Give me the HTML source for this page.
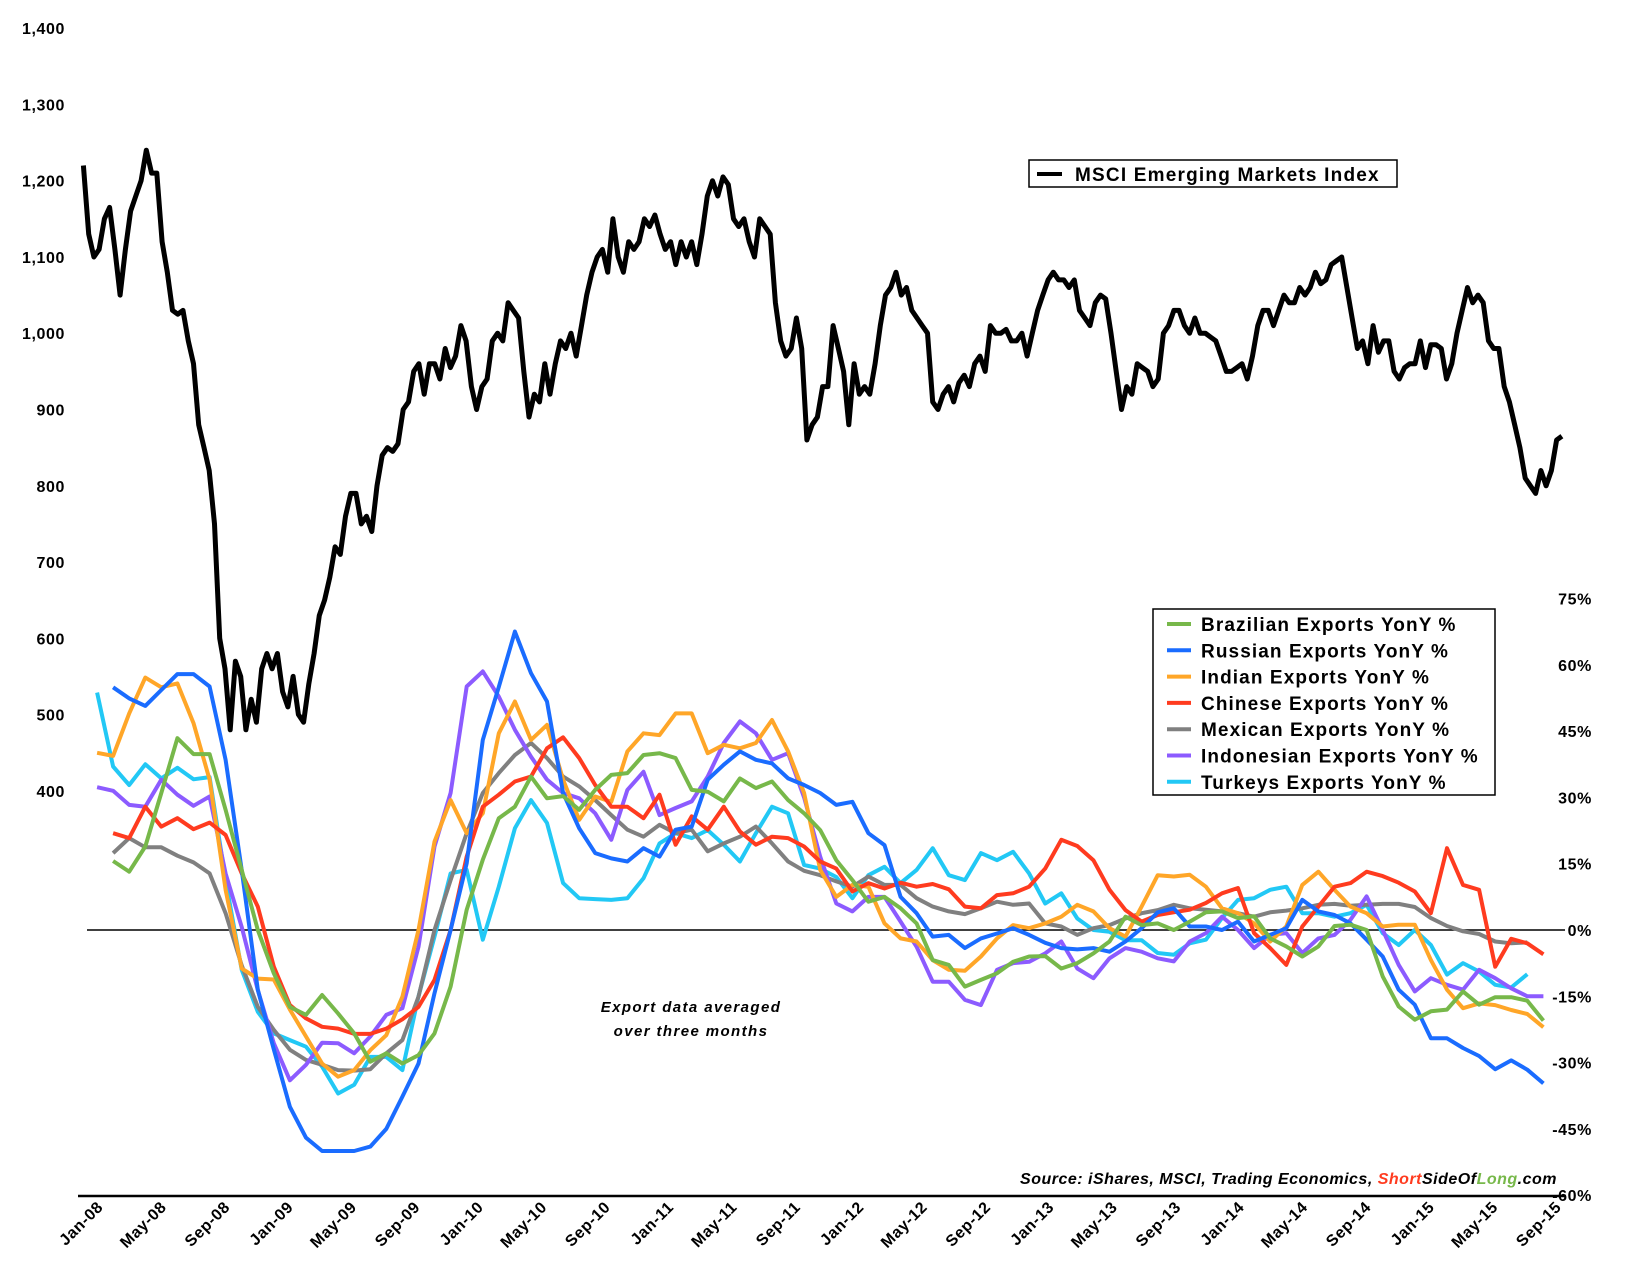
<!DOCTYPE html>
<html><head><meta charset="utf-8"><style>
body{margin:0;background:#fff;}
svg{display:block;font-family:"Liberation Sans",sans-serif;}
.ax{font-weight:bold;font-size:16px;fill:#000;letter-spacing:0.6px;}
</style></head><body>
<svg id="chart" width="1638" height="1276" viewBox="0 0 1638 1276" xmlns="http://www.w3.org/2000/svg">
<rect width="1638" height="1276" fill="#fff"/>
<g id="leftAxis"></g>
<g id="rightAxis"></g>
<g id="xAxis"></g>
<line x1="87" y1="930" x2="1565" y2="930" stroke="#000" stroke-width="1.5"/>
<line x1="78" y1="1196" x2="1566" y2="1196" stroke="#000" stroke-width="2.5"/>
<g id="series"></g>
<g id="msci"></g>
<g>
<rect x="1029" y="160" width="368" height="27" fill="#fff" stroke="#000" stroke-width="1.5"/>
<line x1="1037" y1="174" x2="1062" y2="174" stroke="#000" stroke-width="4"/>
<text x="1075" y="181" font-size="19" font-weight="bold" letter-spacing="1.2">MSCI Emerging Markets Index</text>
</g>
<g id="legend">
<rect x="1153" y="609" width="342" height="186" fill="#fff" stroke="#000" stroke-width="1.5"/>
</g>
<text x="691" y="1012" text-anchor="middle" font-size="15" font-style="italic" font-weight="bold" letter-spacing="1.4">Export data averaged</text>
<text x="691" y="1036" text-anchor="middle" font-size="15" font-style="italic" font-weight="bold" letter-spacing="1.4">over three months</text>
<text x="1557" y="1184" text-anchor="end" font-size="16" font-style="italic" font-weight="bold" letter-spacing="0.5">Source: iShares, MSCI, Trading Economics, <tspan fill="#ff3b1f">Short</tspan>SideOf<tspan fill="#77b84a">Long</tspan>.com</text>
</svg>
<script>
const NS="http://www.w3.org/2000/svg";
const leftTicks=[400,500,600,700,800,900,1000,1100,1200,1300,1400];
const leftTickLabels=["400","500","600","700","800","900","1,000","1,100","1,200","1,300","1,400"];
const rightTicks=[75,60,45,30,15,0,-15,-30,-45,-60];
const xLabels=["Jan-08","May-08","Sep-08","Jan-09","May-09","Sep-09","Jan-10","May-10","Sep-10","Jan-11","May-11","Sep-11","Jan-12","May-12","Sep-12","Jan-13","May-13","Sep-13","Jan-14","May-14","Sep-14","Jan-15","May-15","Sep-15"];
const msciValues=[1220,1130,1100,1110,1150,1165,1110,1050,1110,1160,1180,1200,1240,1210,1210,1120,1080,1030,1025,1030,990,960,880,850,820,750,600,560,480,570,550,480,520,490,560,580,560,580,530,510,550,500,490,540,580,630,650,680,720,710,760,790,790,750,760,740,800,840,850,845,855,900,910,950,960,920,960,960,940,980,955,970,1010,990,930,900,930,940,990,1000,990,1040,1030,1020,950,890,920,910,960,920,960,990,980,1000,970,1010,1050,1080,1100,1110,1080,1150,1100,1080,1120,1110,1120,1150,1140,1155,1130,1110,1120,1090,1120,1100,1120,1090,1130,1180,1200,1180,1205,1195,1150,1140,1150,1120,1100,1150,1140,1130,1040,990,970,980,1020,980,860,880,890,930,930,1010,980,950,880,960,920,930,920,960,1010,1050,1060,1080,1050,1060,1030,1020,1010,1000,910,900,920,930,910,935,945,930,960,970,950,1010,1000,1000,1005,990,990,1000,970,1000,1030,1050,1070,1080,1070,1070,1060,1070,1030,1020,1010,1040,1050,1045,1000,950,900,930,920,960,955,950,930,940,1000,1010,1030,1030,1010,1000,1020,1000,1000,995,990,970,950,950,955,960,940,970,1010,1030,1030,1010,1030,1050,1040,1040,1060,1050,1060,1080,1065,1070,1090,1095,1100,1060,1020,980,990,960,1010,975,990,990,950,940,955,960,960,990,955,985,985,980,940,960,1000,1030,1060,1040,1050,1040,990,980,980,930,910,880,850,810,800,790,820,800,820,860,865];
const seriesNames=["Brazilian Exports YonY %","Russian Exports YonY %","Indian Exports YonY %","Chinese Exports YonY %","Mexican Exports YonY %","Indonesian Exports YonY %","Turkeys Exports YonY %"];
const seriesStart=[2,2,1,2,2,1,1];
const brazil=[15.6,13.2,18.9,31,43.4,39.8,39.8,27.2,13.6,0,-9.8,-17.4,-19.2,-14.7,-18.9,-23.4,-29.8,-27.9,-30.2,-28.3,-23.4,-12.8,4.6,15.9,25.3,27.9,34.7,29.8,30.3,27.2,31.7,35.1,35.5,39.6,40,38.9,31.7,31.3,29.1,34.3,32.1,33.6,29.4,26.4,22.6,15.8,11.3,6.4,7.5,4.9,1.5,-6.8,-7.9,-12.8,-11.3,-9.8,-7.2,-6,-5.9,-8.7,-7.5,-5.3,-2.6,3,1.1,1.5,0,1.9,4,4.2,2.7,3.1,-1.9,-3.7,-6,-3.7,0.9,1.2,0,-10.5,-17.3,-20.3,-18.4,-18,-13.9,-16.9,-15.2,-15.2,-16,-20.5];
const russia=[54.9,52.4,50.7,54.3,57.9,57.9,55.1,38.5,13.6,-13.5,-27,-40,-47,-50,-50,-50,-49,-45,-37.7,-30.2,-14.3,0,15.1,43,55,67.5,58.1,51.7,31,23,17.4,16.2,15.5,18.5,16.6,22.7,23.4,34,37.4,40.4,38.5,37.7,34.3,32.8,31,28.3,29,21.9,19.2,7.5,3.8,-1.5,-1.1,-4.1,-1.9,-0.8,0.4,-1.1,-2.9,-4.1,-4.4,-4.1,-4.9,-2.6,0.4,4,4.9,0.8,0.8,0,1.9,-2.6,-1.1,0.4,6.8,4.2,3.4,1.5,-2.2,-6,-13.5,-16.9,-24.5,-24.5,-26.7,-28.5,-31.5,-29.5,-31.6,-34.7];
const india=[40.1,39.4,49,57.1,54.9,55.8,46.8,34,9.1,-8.7,-11,-11.2,-18,-24.1,-30.2,-33.2,-31.7,-27.2,-23.8,-15.1,0,20,29.4,21.9,26.4,44.5,51.7,43,46.4,34,24.9,30.2,29,40.4,44.5,44.1,49,49,40,41.9,41.1,42.3,47.5,40.4,31,13.6,7.5,10.2,9.8,1.5,-1.9,-2.6,-6.8,-9,-9.2,-6,-1.9,1.1,0.4,1.5,3,5.7,4.2,0.4,-1.5,5.3,12.4,12.1,12.5,9.8,4.9,3.8,1.5,-2.6,0.8,10.2,13.2,9.1,5.3,3.8,0.8,1.2,1.2,-6.8,-13.5,-17.7,-16.6,-17,-18.1,-19,-22];
const china=[21.9,20.8,27.9,23.4,25.3,22.8,24.3,21.5,12.8,5.3,-8.3,-17,-20,-21.9,-22.3,-23.5,-23.5,-22.3,-20.2,-17.4,-11.3,0,16.6,27.9,30.6,33.6,34.7,41.1,43.6,38.9,32.8,27.9,27.9,25.3,30.6,19.3,25.7,22.7,27.9,22.3,19.3,21.1,20.8,18.9,15.5,13.9,8.7,10.6,9.4,10.7,9.8,10.4,9.2,5.3,4.9,7.9,8.3,9.8,13.9,20.4,19,15.8,9.1,4.5,1.9,3.4,4,4.6,6.1,8.3,9.5,-0.7,-4.1,-7.9,0.8,5.3,9.8,10.6,13.2,12.2,10.7,8.7,3.8,18.5,10.2,9.1,-8.3,-2,-3,-5.5];
const mexico=[17.4,20.8,18.7,18.7,16.8,15.3,12.8,3.8,-8,-17.4,-22.6,-27.1,-29.4,-30.5,-31.7,-31.8,-31.5,-27.9,-24.9,-15.1,0,11.3,21.9,31,35.5,39.6,42.3,38.9,34.7,32.5,29.4,26,22.7,21.1,23.8,21.9,22.7,17.8,19.6,21.1,23.4,19.6,15.5,13.4,12.4,11,9.8,12.1,10.2,10.2,7.2,5.3,4.2,3.6,4.9,6.4,5.7,6,1.5,0.8,-1.1,0.4,1.1,2.6,3.8,4.5,5.7,4.9,4.6,4.2,3.8,3,4,4.4,4.9,5.7,5.9,5.5,5.7,5.9,5.9,5.2,2.7,0.9,-0.3,-0.9,-2.6,-3,-2.8];
const indonesia=[32.3,31.5,28.3,27.9,34,30.6,28.1,30.2,12.8,0.7,-13.6,-25.6,-34,-30.5,-25.5,-25.6,-27.9,-24.1,-19.2,-17.7,-3.8,18.9,31,55.1,58.5,52.8,45.3,39.2,34,31,29.8,26.4,20.4,31.7,35.8,26,27.6,29.1,34.7,42.3,47.2,44.5,38.5,40,30,16.6,6,4.2,7.5,7.5,1.9,-3.8,-11.7,-11.7,-15.8,-17,-9,-7.5,-7.2,-5.3,-2.6,-8.7,-10.9,-6.4,-4.1,-4.9,-6.4,-7.1,-2.6,-0.7,3,0,-4.1,-1.1,-0.7,-5.2,-1.9,-1.1,2.3,7.6,0,-7.9,-13.9,-10.9,-12.4,-13.5,-9,-10.9,-13.2,-15,-15];
const turkey=[53.7,37,32.8,37.5,34.3,36.7,34.1,34.6,11.3,-9,-18.5,-23.4,-24.9,-26.4,-30.9,-37,-35,-28.7,-28.7,-31.7,-15,-1.5,12.8,13.6,-2.2,9.8,23,29.4,24.2,10.6,7.2,7,6.8,7.2,11.7,19.6,21.9,20.8,22.6,19.3,15.5,21.9,27.9,26.4,14.7,13.9,12,7.2,12.4,14.3,10.6,13.6,18.5,12.4,11.3,17.4,15.8,17.7,12.8,6,8.3,2.6,0,-0.4,-2.3,-2.3,-5.2,-5.6,-3,-2.2,2.7,6.8,7.2,9.1,9.8,3.8,3.8,3,3.8,5.7,-0.7,-3.4,0,-3.4,-10.1,-7.5,-9.4,-12.4,-13,-10];
const seriesData=[brazil,russia,india,china,mexico,indonesia,turkey];
const seriesColors=["#77b84a","#1a6cff","#ffa628","#ff3b1f","#808080","#8c5bff","#22c8f5"];
const drawOrder=[6,4,5,2,3,1,0];
const keys=["brazil","russia","india","china","mexico","indonesia","turkey"];

function xM(m){return 81+16.07*m;}
function yP(p){return 930-4.42*p;}
function yL(v){return 28.2+(1400-v)*0.7626;}
function xLab(i){return 104+63.4*i;}
function mk(tag,attrs,parent){const e=document.createElementNS(NS,tag);for(const k in attrs)e.setAttribute(k,attrs[k]);parent.appendChild(e);return e;}

const la=document.getElementById('leftAxis');
leftTicks.forEach((v,i)=>{const t=mk('text',{x:65,y:yL(v)+6,'text-anchor':'end',class:'ax','font-size':17},la);


t.textContent=leftTickLabels[i];});
const ra=document.getElementById('rightAxis');
rightTicks.forEach(v=>{const t=mk('text',{x:1592,y:yP(v)+6,'text-anchor':'end',class:'ax'},ra);


t.textContent=v+'%';});
const xa=document.getElementById('xAxis');
xLabels.forEach((s,i)=>{const x=xLab(i),y=1208;const t=mk('text',{x:x,y:y,'text-anchor':'end',class:'ax',transform:'rotate(-45 '+x+' '+y+')'},xa);


t.textContent=s;});

const sg=document.getElementById('series');
drawOrder.forEach(i=>{const d=seriesData[i];const pts=d.map((v,j)=>xM(seriesStart[i]+j).toFixed(1)+','+yP(v).toFixed(1)).join(' ');
const p=mk('polyline',{points:pts,fill:'none',stroke:seriesColors[i],'stroke-width':4,'stroke-linejoin':'round'},sg);

});

const mg=document.getElementById('msci');
const n=msciValues.length;
const mpts=msciValues.map((v,j)=>xM(0.15+92*j/(n-1)).toFixed(1)+','+yL(v).toFixed(1)).join(' ');
const ml=mk('polyline',{points:mpts,fill:'none',stroke:'#000','stroke-width':5,'stroke-linejoin':'round'},mg);



const lg=document.getElementById('legend');
seriesNames.forEach((s,i)=>{const y=624+i*26.3;
const l=mk('line',{x1:1167,y1:y,x2:1191,y2:y,stroke:seriesColors[i],'stroke-width':4},lg);


const t=mk('text',{x:1201,y:y+7,'font-size':19,'font-weight':'bold','letter-spacing':1.1},lg);


t.textContent=s;});
</script>
</body></html>
